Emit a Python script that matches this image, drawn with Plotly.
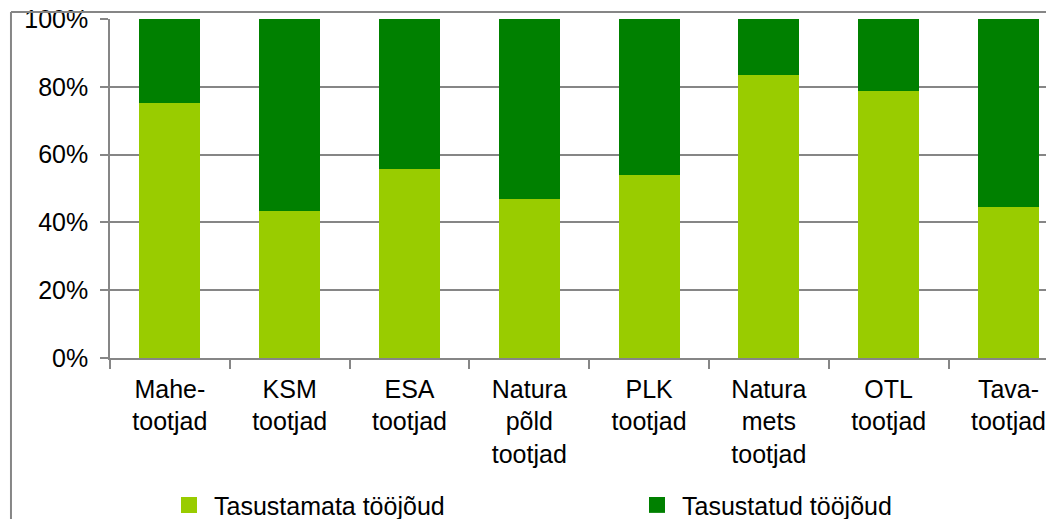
import plotly.graph_objects as go

categories = ["Mahe-<br>tootjad", "KSM<br>tootjad", "ESA<br>tootjad", "Natura<br>põld<br>tootjad",
              "PLK<br>tootjad", "Natura<br>mets<br>tootjad", "OTL<br>tootjad", "Tava-<br>tootjad"]
unpaid = [75.3, 43.5, 55.8, 46.9, 54.0, 83.6, 78.8, 44.6]
paid = [100 - v for v in unpaid]
series_names = ["Tasustamata tööjõud", "Tasustatud tööjõud"]
colors = ["#99CC00", "#008000"]
ytick_vals = [0, 20, 40, 60, 80, 100]
ytick_text = ["0%", "20%", "40%", "60%", "80%", "100%"]

FONT = "Liberation Sans, Arial, sans-serif"
GRAY = "#868686"

fig = go.Figure()
for name, vals, col in zip(series_names, [unpaid, paid], colors):
    fig.add_trace(go.Bar(x=categories, y=vals, name=name, marker=dict(color=col, line=dict(width=0)),
                         width=0.51, showlegend=False, legendgroup=name))
for name, col in zip(series_names, colors):
    fig.add_trace(go.Scatter(x=[None], y=[None], mode="markers", name=name, legendgroup=name,
                             marker=dict(symbol="square", size=16, color=col)))

fig.update_layout(
    width=1046, height=511,
    margin=dict(l=102, r=0, t=11, b=161, autoexpand=False),
    barmode="stack",
    paper_bgcolor="white", plot_bgcolor="white",
    font=dict(family=FONT, size=25, color="#000000"),
    xaxis=dict(type="category", range=[-0.5, 7.38], showgrid=False, automargin=False,
               showline=True, linecolor=GRAY, linewidth=1.5,
               ticks="outside", tickson="boundaries", ticklen=9, tickcolor=GRAY, tickwidth=1.5,
               tickfont=dict(size=25), ticklabelstandoff=8, ticklabeloverflow="allow"),
    yaxis=dict(range=[0, 100], tickvals=ytick_vals, ticktext=ytick_text, automargin=False,
               showgrid=True, gridcolor=GRAY, gridwidth=1.5,
               showline=True, linecolor=GRAY, linewidth=1.5,
               ticks="outside", ticklen=8, tickcolor=GRAY, tickwidth=1.5,
               tickfont=dict(size=25), ticklabelstandoff=7, zeroline=False,
               ticklabeloverflow="allow"),
    legend=dict(orientation="h", x=0.0572, xanchor="left", y=-0.434, yanchor="middle",
                itemwidth=40, entrywidth=413, entrywidthmode="pixels",
                font=dict(size=25), bgcolor="rgba(0,0,0,0)", borderwidth=0),
    shapes=[
        dict(type="line", xref="paper", yref="paper", x0=-0.1049, x1=-0.1049, y0=-0.6, y1=1.0206,
             line=dict(color=GRAY, width=2), layer="above"),
        dict(type="line", xref="paper", yref="paper", x0=-0.1049, x1=1.05, y0=1.0206, y1=1.0206,
             line=dict(color=GRAY, width=2), layer="above"),
    ],
)

fig.write_html("out.html")
